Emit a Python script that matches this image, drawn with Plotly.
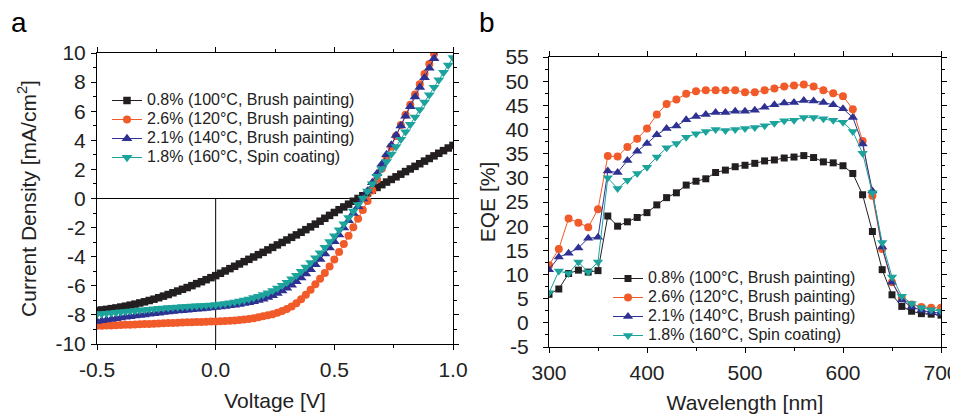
import numpy as np
import plotly.graph_objects as go

# ---------------- data ----------------
voltage = np.round(np.arange(-0.5, 1.0001, 0.02), 2)  # sweep grid, V

j_08 = [-7.70, -7.66, -7.62, -7.57, -7.52, -7.46, -7.40, -7.33, -7.26, -7.18,
        -7.10, -7.01, -6.92, -6.82, -6.71, -6.60, -6.48, -6.36, -6.24, -6.12,
        -5.99, -5.85, -5.72, -5.58, -5.44, -5.30, -5.14, -4.98, -4.82, -4.66,
        -4.50, -4.34, -4.18, -4.02, -3.86, -3.70, -3.53, -3.36, -3.19, -3.02,
        -2.85, -2.67, -2.50, -2.32, -2.14, -1.95, -1.76, -1.56, -1.36, -1.16,
        -0.96, -0.77, -0.58, -0.39, -0.19, 0.00, 0.19, 0.38, 0.57, 0.76,
        0.95, 1.13, 1.31, 1.49, 1.67, 1.85, 2.03, 2.21, 2.39, 2.57,
        2.75, 2.93, 3.11, 3.29, 3.47, 3.65]
j_26 = [-8.75, -8.74, -8.73, -8.72, -8.71, -8.70, -8.68, -8.67, -8.66, -8.64,
        -8.63, -8.62, -8.60, -8.59, -8.58, -8.56, -8.55, -8.54, -8.52, -8.51,
        -8.50, -8.49, -8.48, -8.47, -8.46, -8.45, -8.44, -8.42, -8.40, -8.38,
        -8.35, -8.32, -8.28, -8.23, -8.17, -8.10, -8.03, -7.95, -7.85, -7.73,
        -7.60, -7.42, -7.20, -6.93, -6.62, -6.27, -5.90, -5.52, -5.12, -4.68,
        -4.20, -3.68, -3.13, -2.56, -1.98, -1.39, -0.79, -0.17, 0.55, 1.30,
        2.05, 2.80, 3.55, 4.30, 5.05, 5.75, 6.45, 7.15, 7.85, 8.55,
        9.25, 9.95, 10.65, 11.35, 12.05, 12.75]
j_21 = [-8.45, -8.40, -8.35, -8.30, -8.25, -8.20, -8.15, -8.11, -8.07, -8.03,
        -7.99, -7.95, -7.91, -7.87, -7.83, -7.79, -7.76, -7.73, -7.70, -7.67,
        -7.64, -7.61, -7.58, -7.55, -7.52, -7.49, -7.45, -7.41, -7.37, -7.32,
        -7.27, -7.21, -7.15, -7.08, -7.00, -6.91, -6.80, -6.67, -6.52, -6.35,
        -6.16, -5.95, -5.72, -5.46, -5.18, -4.88, -4.55, -4.18, -3.80, -3.40,
        -2.97, -2.50, -2.02, -1.52, -1.02, -0.55, -0.02, 0.52, 1.10, 1.72,
        2.36, 3.02, 3.68, 4.34, 5.00, 5.66, 6.32, 6.98, 7.64, 8.30,
        8.96, 9.62, 10.28, 10.94, 11.60, 12.26]
j_18 = [-7.95, -7.92, -7.89, -7.86, -7.83, -7.80, -7.77, -7.74, -7.71, -7.68,
        -7.65, -7.62, -7.59, -7.56, -7.53, -7.50, -7.48, -7.46, -7.44, -7.42,
        -7.40, -7.38, -7.36, -7.34, -7.32, -7.30, -7.26, -7.22, -7.17, -7.12,
        -7.06, -6.99, -6.91, -6.82, -6.72, -6.61, -6.48, -6.33, -6.16, -5.97,
        -5.76, -5.53, -5.28, -5.01, -4.72, -4.41, -4.08, -3.73, -3.36, -2.97,
        -2.57, -2.16, -1.74, -1.31, -0.87, -0.42, 0.03, 0.50, 1.01, 1.52,
        2.03, 2.54, 3.05, 3.56, 4.07, 4.58, 5.09, 5.60, 6.11, 6.62,
        7.13, 7.64, 8.15, 8.66, 9.17, 9.68]

wavelength = list(range(300, 701, 10))  # nm

eqe_08 = [5.9, 7.0, 10.2, 10.9, 10.5, 10.8, 22.1, 20.0, 20.9, 21.8,
          22.8, 24.4, 25.9, 26.9, 28.5, 29.3, 29.8, 31.1, 31.6, 32.3,
          32.6, 33.0, 33.5, 33.7, 34.1, 34.3, 34.6, 34.2, 33.3, 33.1,
          32.5, 30.9, 26.5, 18.9, 11.0, 5.8, 3.4, 2.4, 1.9, 1.8, 1.6]
eqe_26 = [11.9, 15.3, 21.6, 20.7, 19.8, 23.5, 34.5, 34.4, 36.4, 38.1,
          40.2, 43.1, 45.3, 46.2, 47.4, 47.9, 48.1, 48.1, 48.1, 48.1,
          47.7, 47.7, 48.1, 48.5, 48.9, 49.1, 49.3, 48.9, 48.1, 47.5,
          46.9, 44.2, 37.6, 26.3, 15.3, 8.4, 5.1, 3.8, 3.3, 3.1, 3.1]
eqe_21 = [11.0, 13.6, 14.4, 15.5, 17.5, 17.7, 31.4, 31.1, 33.6, 35.5,
          37.1, 38.9, 40.2, 40.7, 42.0, 42.7, 43.1, 43.5, 43.5, 43.8,
          43.8, 44.0, 44.6, 45.1, 45.5, 45.6, 46.0, 45.9, 45.6, 45.1,
          44.3, 42.5, 37.0, 27.3, 15.7, 8.4, 4.7, 3.3, 2.6, 2.2, 2.0]
eqe_18 = [6.2, 10.7, 10.2, 12.6, 10.5, 12.6, 30.0, 27.8, 29.5, 30.9,
          32.2, 34.3, 36.2, 37.1, 38.4, 39.1, 39.6, 40.0, 39.8, 40.0,
          40.2, 40.4, 40.8, 41.3, 41.8, 41.9, 42.5, 42.5, 42.2, 41.9,
          41.5, 39.6, 35.1, 26.9, 16.6, 9.5, 5.5, 4.0, 3.1, 2.7, 2.4]

names = ["0.8% (100°C, Brush painting)",
         "2.6% (120°C, Brush painting)",
         "2.1% (140°C, Brush painting)",
         "1.8% (160°C, Spin coating)"]
colors = ["#231f20", "#f15a29", "#2e3192", "#1ba39c"]
symbols = ["square", "circle", "triangle-up", "triangle-down"]

jv_xticks = [-0.5, 0.0, 0.5, 1.0]
jv_xticktext = ["-0.5", "0.0", "0.5", "1.0"]
jv_yticks = list(range(-10, 11, 2))
jv_yticktext = [str(v) for v in jv_yticks]
eqe_xticks = [300, 400, 500, 600, 700]
eqe_xticktext = [str(v) for v in eqe_xticks]
eqe_yticks = list(range(-5, 56, 5))
eqe_yticktext = [str(v) for v in eqe_yticks]

# ---------------- figure ----------------
FONT = "Liberation Sans, Arial, sans-serif"
TXT = "#222222"
W, H = 958, 414
OFF = 8  # page body margin in the viewer
JV_SIZES = [7.5, 8, 9.5, 9.5]
EQE_SIZES = [7, 8, 9, 9]


def px(xp):
    return (xp - OFF) / W


def py(yp):
    return 1 - (yp - OFF) / H


fig = go.Figure()
for y, n, c, s, sz in zip([j_08, j_26, j_21, j_18], names, colors, symbols, JV_SIZES):
    fig.add_trace(go.Scatter(
        x=voltage, y=y, xaxis="x", yaxis="y", mode="lines+markers",
        name=f"<span style='font-size:16px'>{n}</span>", legend="legend",
        line=dict(color=c, width=1),
        marker=dict(symbol=s, size=sz, color=c, line=dict(width=0))))
for y, n, c, s, sz in zip([eqe_08, eqe_26, eqe_21, eqe_18], names, colors, symbols, EQE_SIZES):
    fig.add_trace(go.Scatter(
        x=wavelength, y=y, xaxis="x2", yaxis="y2", mode="lines+markers",
        name=f"<span style='font-size:16px'>{n}</span>", legend="legend2",
        line=dict(color=c, width=1),
        marker=dict(symbol=s, size=sz, color=c, line=dict(width=0))))


def axis(**kw):
    d = dict(showline=True, linecolor="black", linewidth=1, mirror="allticks",
             ticks="outside", ticklen=5, tickcolor="black", tickwidth=1,
             showgrid=False, zeroline=False, tickmode="array", automargin=False,
             tickfont=dict(size=21, color=TXT, family=FONT),
             title_font=dict(size=21, color=TXT, family=FONT))
    d.update(kw)
    return d


fig.update_layout(
    width=W, height=H,
    margin=dict(l=0, r=0, t=0, b=0, autoexpand=False),
    paper_bgcolor="white", plot_bgcolor="white",
    font=dict(family=FONT, color=TXT),
    xaxis=axis(domain=[px(97), px(453)], range=[-0.5, 1.0], anchor="y",
               tickvals=jv_xticks, ticktext=jv_xticktext, ticklabelstandoff=2,
               title=dict(text="Voltage [V]", standoff=13),
               minor=dict(tickmode="linear", tick0=-0.5, dtick=0.25, ticks="outside",
                          ticklen=3, tickcolor="black", showgrid=False)),
    yaxis=axis(domain=[py(344), py(53)], range=[-10, 10], anchor="x",
               tickvals=jv_yticks, ticktext=jv_yticktext, ticklabelstandoff=1,
               title=dict(text="Current Density [mA/cm<sup>2</sup>]", standoff=13),
               minor=dict(tickmode="linear", tick0=-10, dtick=1, ticks="outside",
                          ticklen=3, tickcolor="black", showgrid=False)),
    xaxis2=axis(domain=[px(549), px(941)], range=[300, 700], anchor="y2",
                tickvals=eqe_xticks, ticktext=eqe_xticktext, ticklabelstandoff=2,
                title=dict(text="Wavelength [nm]", standoff=12),
                minor=dict(tickmode="linear", tick0=300, dtick=50, ticks="outside",
                           ticklen=3, tickcolor="black", showgrid=False)),
    yaxis2=axis(domain=[py(347), py(57)], range=[-5, 55], anchor="x2",
                tickvals=eqe_yticks, ticktext=eqe_yticktext, ticklabelstandoff=10,
                title=dict(text="EQE [%]", standoff=4),
                minor=dict(tickmode="linear", tick0=-5, dtick=2.5, ticks="outside",
                           ticklen=3, tickcolor="black", showgrid=False)),
    legend=dict(x=px(107), y=py(86), xanchor="left", yanchor="top",
                bgcolor="rgba(0,0,0,0)", font=dict(size=12, color=TXT, family=FONT),
                tracegroupgap=0),
    legend2=dict(x=px(608), y=py(264), xanchor="left", yanchor="top",
                 bgcolor="rgba(0,0,0,0)", font=dict(size=12, color=TXT, family=FONT),
                 tracegroupgap=0),
    showlegend=True,
    shapes=[
        dict(type="line", xref="x domain", yref="y", x0=0, x1=1, y0=0, y1=0,
             line=dict(color="black", width=1), layer="below"),
        dict(type="line", xref="x", yref="y", x0=0, x1=0, y0=-10, y1=0,
             line=dict(color="black", width=1), layer="below"),
    ],
    annotations=[
        dict(text="a", xref="paper", yref="paper", x=px(9), y=py(22),
             xanchor="left", yanchor="middle", showarrow=False,
             font=dict(size=28, color="black", family=FONT)),
        dict(text="b", xref="paper", yref="paper", x=px(477), y=py(22),
             xanchor="left", yanchor="middle", showarrow=False,
             font=dict(size=28, color="black", family=FONT)),
    ],
)

fig.write_html("out.html")
